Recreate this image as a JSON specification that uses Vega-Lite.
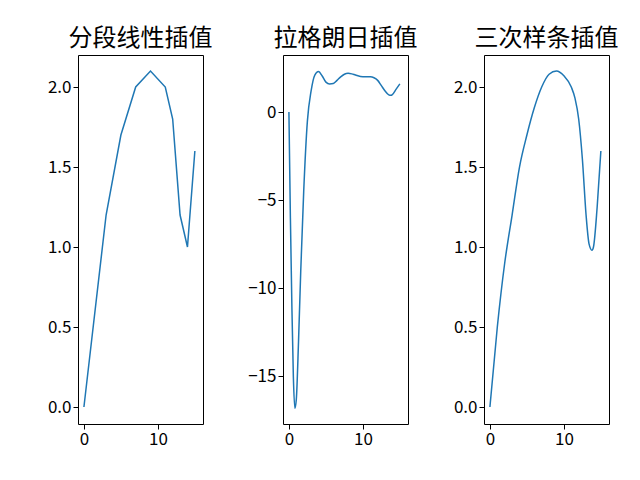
{
"$schema":"https://vega.github.io/schema/vega-lite/v6.json",
"config":{"font":"Noto Sans CJK SC","view":{"stroke":"black"},"axis":{"grid":false,"labelFontSize":17,"labelColor":"black","domain":false,"tickColor":"black","title":null,"labelFont":"Noto Sans CJK SC"},"title":{"fontSize":24,"fontWeight":"normal","font":"Noto Sans CJK SC"},"concat":{"spacing":34}},
"padding":{"left":46,"top":26,"right":10,"bottom":10},
"datasets":{
"a":[{"x":0,"y":0},{"x":3,"y":1.2},{"x":5,"y":1.7},{"x":7,"y":2.0},{"x":9,"y":2.1},{"x":11,"y":2.0},{"x":12,"y":1.8},{"x":13,"y":1.2},{"x":14,"y":1.0},{"x":15,"y":1.6}],
"b":[{"x":0,"y":0},{"x":0.2,"y":-6},{"x":0.4,"y":-11},{"x":0.6,"y":-15},{"x":0.8,"y":-16.8},{"x":1.0,"y":-16.3},{"x":1.3,"y":-13},{"x":1.6,"y":-9},{"x":2.0,"y":-4.5},{"x":2.5,"y":-0.5},{"x":3,"y":1.2},{"x":3.5,"y":2.1},{"x":4,"y":2.3},{"x":4.5,"y":2.05},{"x":5,"y":1.7},{"x":5.5,"y":1.6},{"x":6,"y":1.62},{"x":6.5,"y":1.8},{"x":7,"y":2.0},{"x":7.5,"y":2.15},{"x":8,"y":2.2},{"x":8.5,"y":2.17},{"x":9,"y":2.1},{"x":10,"y":2.0},{"x":11,"y":2.0},{"x":11.5,"y":1.95},{"x":12,"y":1.8},{"x":12.5,"y":1.5},{"x":13,"y":1.2},{"x":13.5,"y":0.98},{"x":13.8,"y":0.95},{"x":14,"y":1.0},{"x":14.5,"y":1.3},{"x":15,"y":1.6}],
"c":[{"x":0,"y":0},{"x":1,"y":0.5},{"x":2,"y":0.9},{"x":3,"y":1.2},{"x":4,"y":1.5},{"x":5,"y":1.7},{"x":6,"y":1.87},{"x":7,"y":2.0},{"x":8,"y":2.08},{"x":9,"y":2.1},{"x":10,"y":2.07},{"x":11,"y":2.0},{"x":11.5,"y":1.93},{"x":12,"y":1.8},{"x":12.5,"y":1.55},{"x":13,"y":1.2},{"x":13.4,"y":1.02},{"x":13.8,"y":0.98},{"x":14,"y":1.0},{"x":14.5,"y":1.25},{"x":15,"y":1.6}]
},
"hconcat":[
{"title":"分段线性插值","width":125,"height":369,"data":{"name":"a"},"mark":{"type":"line","color":"#1f77b4","strokeWidth":1.5},
"encoding":{"x":{"field":"x","type":"quantitative","scale":{"domain":[-0.8,16.1],"nice":false,"zero":false},"axis":{"values":[0,10]}},
"y":{"field":"y","type":"quantitative","scale":{"domain":[-0.106,2.2],"nice":false},"axis":{"values":[0,0.5,1,1.5,2],"format":".1f"}}}},
{"title":"拉格朗日插值","width":125,"height":369,"data":{"name":"b"},"mark":{"type":"line","color":"#1f77b4","strokeWidth":1.5,"interpolate":"monotone"},
"encoding":{"x":{"field":"x","type":"quantitative","scale":{"domain":[-0.8,16.1],"nice":false,"zero":false},"axis":{"values":[0,10]}},
"y":{"field":"y","type":"quantitative","scale":{"domain":[-17.7,3.24],"nice":false},"axis":{"values":[-15,-10,-5,0]}}}},
{"title":"三次样条插值","width":125,"height":369,"data":{"name":"c"},"mark":{"type":"line","color":"#1f77b4","strokeWidth":1.5,"interpolate":"monotone"},
"encoding":{"x":{"field":"x","type":"quantitative","scale":{"domain":[-0.8,16.1],"nice":false,"zero":false},"axis":{"values":[0,10]}},
"y":{"field":"y","type":"quantitative","scale":{"domain":[-0.106,2.2],"nice":false},"axis":{"values":[0,0.5,1,1.5,2],"format":".1f"}}}}
]}
